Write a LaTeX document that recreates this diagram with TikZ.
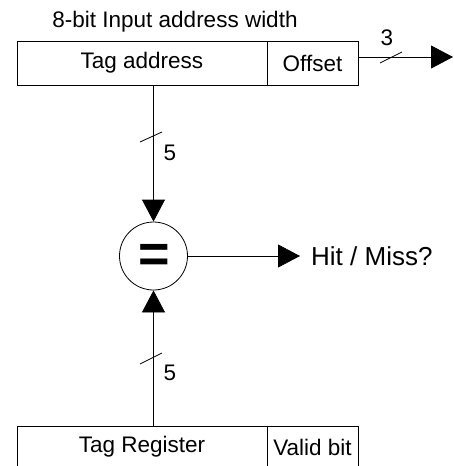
\documentclass[tikz,border=0pt]{standalone}
\usepackage{fontspec}
\setmainfont{Liberation Sans}
\usetikzlibrary{arrows.meta}
\begin{document}
\begin{tikzpicture}[x=1pt,y=-1pt,
  cell/.style={draw, rectangle, inner sep=0pt, line width=0.8pt, font=\fontsize{22.5}{26}\selectfont},
  lbl/.style={inner sep=0pt, font=\fontsize{22.5}{26}\selectfont},
  arr/.style={line width=0.8pt, -{Triangle[length=22pt,width=23pt]}},
  wire/.style={line width=0.8pt},
  busmark/.style={line width=0.8pt}]
\useasboundingbox (0,0) rectangle (453,466);
\clip (0,0) rectangle (453,466);
% title
\node[lbl] (title) at (175,22) {8-bit Input address width};
% top register
\node[cell, minimum width=250pt, minimum height=44pt] (tag) at (142,63) {Tag address};
\node[cell, minimum width=91pt, minimum height=44pt] (off) at (312.5,63) {Offset};
\coordinate (offout) at (453,57);
\draw[arr] ([yshift=6pt]off.east) -- (offout);
\draw[busmark] (380,63) -- (402,52);
\node[lbl] (n3) at (387,38) {3};
% comparator
\node[draw, circle, minimum size=68pt, inner sep=0pt, line width=0.8pt] (eq) at (153.5,256) {};
\node[inner sep=0pt, font=\fontsize{54}{54}\selectfont\bfseries] (eqsym) at (154.5,258) {=};
% bottom register
\node[cell, minimum width=250pt, minimum height=42pt] (reg) at (142,447) {Tag Register};
\node[cell, minimum width=91pt, minimum height=42pt] (valid) at (312.5,447) {Valid bit};
% connections
\draw[arr] (eq.north |- tag.south) -- (eq.north);
\draw[busmark] (140,142) -- (162,132);
\node[lbl] (n5a) at (170,153) {5};
\draw[arr] (eq.south |- reg.north) -- (eq.south);
\draw[busmark] (140,364) -- (162,353);
\node[lbl] (n5b) at (170,373) {5};
% output
\node[inner sep=0pt, anchor=west, font=\fontsize{26}{30}\selectfont] (hm) at (311,256) {Hit / Miss?};
\draw[arr] (eq.east) -- ([xshift=-11pt]hm.west);
\end{tikzpicture}
\end{document}
